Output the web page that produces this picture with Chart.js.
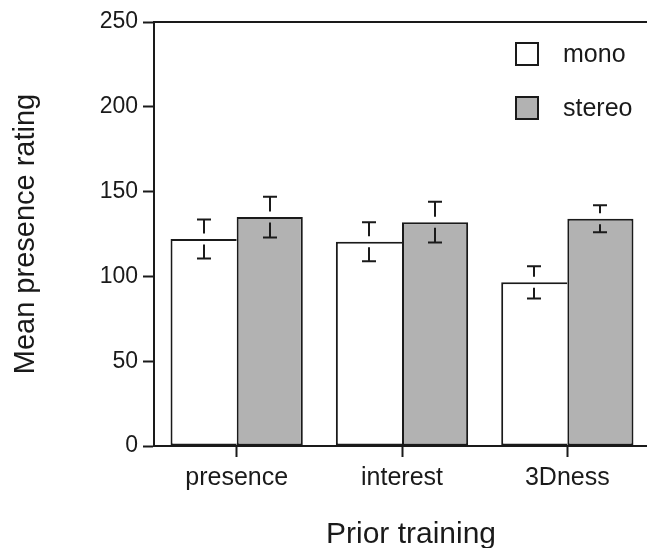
<!DOCTYPE html>
<html>
<head>
<meta charset="utf-8">
<script src="https://cdn.jsdelivr.net/npm/chart.js@4"></script>
<style>
  html, body { margin: 0; padding: 0; background: #fff; overflow: hidden; }
  #wrap { width: 652px; height: 548px; position: relative; }
</style>
</head>
<body>
<div id="wrap"><canvas id="chart"></canvas></div>
<script>
// Mean presence ratings by prior-training group, with error bars
const categories = ['presence', 'interest', '3Dness'];
const seriesNames = ['mono', 'stereo'];
const monoValues = [122, 120.5, 96.5];
const monoErrors = [11.5, 11.5, 9.5];
const stereoValues = [135, 132, 134];
const stereoErrors = [12, 12, 8];
const yTicks = [0, 50, 100, 150, 200, 250];
const yTitle = 'Mean presence rating';
const xTitle = 'Prior training';

const FONT = '"Liberation Sans", Arial, Helvetica, sans-serif';
const INK = '#1a1a1a';
const GREY = '#b2b2b2';

// Error bars: T caps above and below, with the stem broken just around the bar top
const errorBars = {
  id: 'errorBars',
  afterDatasetsDraw(chart) {
    const ctx = chart.ctx;
    const y = chart.scales.y;
    const half = 7, gap = 5.5;
    ctx.save();
    ctx.strokeStyle = INK;
    ctx.lineWidth = 2;
    chart.data.datasets.forEach((ds, di) => {
      const meta = chart.getDatasetMeta(di);
      meta.data.forEach((bar, i) => {
        const v = ds.data[i], e = ds.errors[i];
        const x = Math.round(bar.x);
        const yv = y.getPixelForValue(v);
        const yt = y.getPixelForValue(v + e);
        const yb = y.getPixelForValue(v - e);
        ctx.beginPath();
        ctx.moveTo(x - half, yt); ctx.lineTo(x + half, yt);
        ctx.moveTo(x, yt); ctx.lineTo(x, yv - gap);
        ctx.moveTo(x, yv + gap); ctx.lineTo(x, yb);
        ctx.moveTo(x - half, yb); ctx.lineTo(x + half, yb);
        ctx.stroke();
      });
    });
    ctx.restore();
  }
};

// Frame line along the top, inset legend and the x-axis title
const decorations = {
  id: 'decorations',
  afterDraw(chart) {
    const ctx = chart.ctx;
    const area = chart.chartArea;
    ctx.save();
    ctx.strokeStyle = INK;
    ctx.lineWidth = 2;
    ctx.beginPath();
    ctx.moveTo(area.left - 1, area.top);
    ctx.lineTo(chart.width, area.top);
    ctx.stroke();

    // legend
    const boxX = 516, boxSize = 22, rowY = [54, 108];
    ctx.font = '25px ' + FONT;
    ctx.textBaseline = 'middle';
    ctx.textAlign = 'left';
    chart.data.datasets.forEach((ds, i) => {
      const cy = rowY[i];
      ctx.fillStyle = ds.backgroundColor;
      ctx.fillRect(boxX, cy - boxSize / 2, boxSize, boxSize);
      ctx.lineWidth = 2;
      ctx.strokeRect(boxX, cy - boxSize / 2, boxSize, boxSize);
      ctx.fillStyle = INK;
      ctx.fillText(ds.label, 563, cy + 1);
    });

    // x-axis title
    ctx.font = '30px ' + FONT;
    ctx.textAlign = 'center';
    ctx.fillStyle = INK;
    ctx.fillText(xTitle, 411, 535);
    ctx.restore();
  }
};

new Chart(document.getElementById('chart'), {
  type: 'bar',
  data: {
    labels: categories,
    datasets: [
      {
        label: seriesNames[0],
        data: monoValues,
        errors: monoErrors,
        backgroundColor: '#ffffff',
        borderColor: INK,
        borderWidth: 2,
        borderSkipped: 'right'
      },
      {
        label: seriesNames[1],
        data: stereoValues,
        errors: stereoErrors,
        backgroundColor: GREY,
        borderColor: INK,
        borderWidth: 2,
        borderSkipped: false
      }
    ]
  },
  options: {
    responsive: true,
    maintainAspectRatio: false,
    animation: false,
    devicePixelRatio: 1,
    categoryPercentage: 0.8,
    barPercentage: 1.0,
    layout: { padding: { top: 22, right: 2, left: 0, bottom: 0 } },
    plugins: {
      legend: { display: false },
      tooltip: { enabled: false }
    },
    scales: {
      x: {
        offset: true,
        afterFit(scale) { scale.height = 102; },
        grid: {
          offset: false,
          drawOnChartArea: false,
          drawTicks: true,
          tickLength: 11,
          tickWidth: 2,
          tickColor: INK
        },
        border: { display: true, color: INK, width: 2 },
        ticks: {
          color: INK,
          padding: 6,
          font: { family: FONT, size: 25 }
        }
      },
      y: {
        min: 0,
        max: 250,
        afterFit(scale) { scale.width = 154; },
        afterBuildTicks(scale) { scale.ticks = yTicks.map(v => ({ value: v })); },
        grid: {
          drawOnChartArea: false,
          drawTicks: true,
          tickLength: 11,
          tickWidth: 2,
          tickColor: INK
        },
        border: { display: true, color: INK, width: 2 },
        ticks: {
          color: INK,
          padding: 5,
          font: { family: FONT, size: 23 }
        },
        title: {
          display: true,
          text: yTitle,
          color: INK,
          padding: { top: 9, bottom: 0 },
          font: { family: FONT, size: 29 }
        }
      }
    }
  },
  plugins: [errorBars, decorations]
});
</script>
</body>
</html>
